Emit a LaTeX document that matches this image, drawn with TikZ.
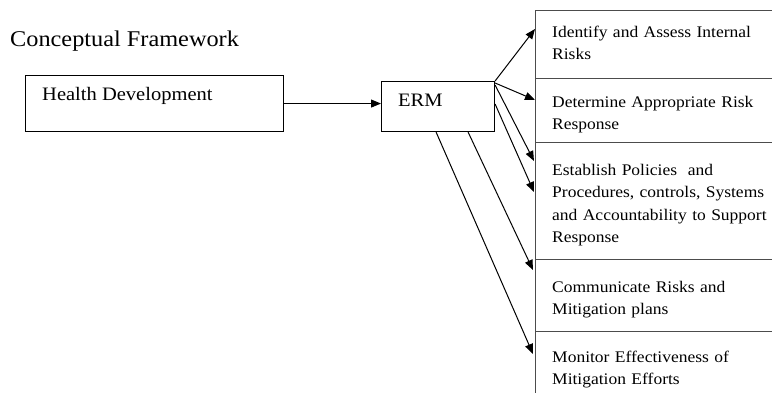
\documentclass[tikz,border=0pt]{standalone}
\usepackage{fontspec}
\setmainfont[FakeStretch=1.08]{Liberation Serif}
\usetikzlibrary{arrows.meta}
\begin{document}
\begin{tikzpicture}[x=1pt,y=-1pt,
  box/.style={draw=black,line width=1.1pt,inner sep=0pt},
  cell/.style={draw=black!70,line width=1.4pt,minimum height=#1,minimum width=262pt,inner sep=0pt,anchor=north west},
  ctext/.style={anchor=base west,inner sep=0pt,text width=225pt,align=left,font=\fontsize{16.2}{22.6}\selectfont},
  lbl/.style={anchor=base west,inner sep=0pt,font=\fontsize{19}{22}\selectfont},
  arr/.style={draw=black,line width=1pt,-{Triangle[length=10pt,width=8pt]}}]
\useasboundingbox (0,0) rectangle (772,392);
\clip (0,0) rectangle (772,392);
\node[lbl,font=\fontsize{22.5}{26}\selectfont] (title) at (10,46) {Conceptual Framework};
\node[box,minimum width=258pt,minimum height=56pt,anchor=north west] (hd) at (25,75) {};
\node[lbl] (hdt) at (42,100) {Health Development};
\node[box,minimum width=113pt,minimum height=50pt,anchor=north west] (erm) at (381,81) {};
\node[lbl] (ermt) at (398,106) {ERM};
\node[cell=68pt] (c1) at (535,10) {};
\node[cell=64pt] (c2) at (535,78) {};
\node[cell=117pt] (c3) at (535,142) {};
\node[cell=72pt] (c4) at (535,259) {};
\node[cell=71pt] (c5) at (535,331) {};
\node[ctext] (t1) at (552,37) {Identify and Assess Internal\\Risks};
\node[ctext] (t2) at (552,107) {Determine Appropriate Risk\\Response};
\node[ctext] (t3) at (552,175) {Establish Policies\ \ and\\Procedures, controls, Systems\\and Accountability to Support\\Response};
\node[ctext] (t4) at (552,292) {Communicate Risks and\\Mitigation plans};
\node[ctext] (t5) at (552,362) {Monitor Effectiveness of\\Mitigation Efforts};
\draw[arr] (hd.east) -- (hd.east -| erm.west);
\draw[arr] (erm.north east) -- ([yshift=-19pt]c1.north west);
\draw[arr] ([yshift=-2pt]erm.north east) -- ([yshift=-22pt]c2.north west);
\draw[arr] ([yshift=-4pt]erm.north east) -- ([xshift=-1pt,yshift=-19pt]c3.north west);
\draw[arr] ([yshift=-23pt]erm.north east) -- ([xshift=-1pt,yshift=-50pt]c3.north west);
\draw[arr] ([xshift=-27pt]erm.south east) -- ([xshift=-2pt,yshift=-11pt]c4.north west);
\draw[arr] ([xshift=-59pt]erm.south east) -- ([xshift=-2pt,yshift=-23pt]c5.north west);
\end{tikzpicture}
\end{document}
